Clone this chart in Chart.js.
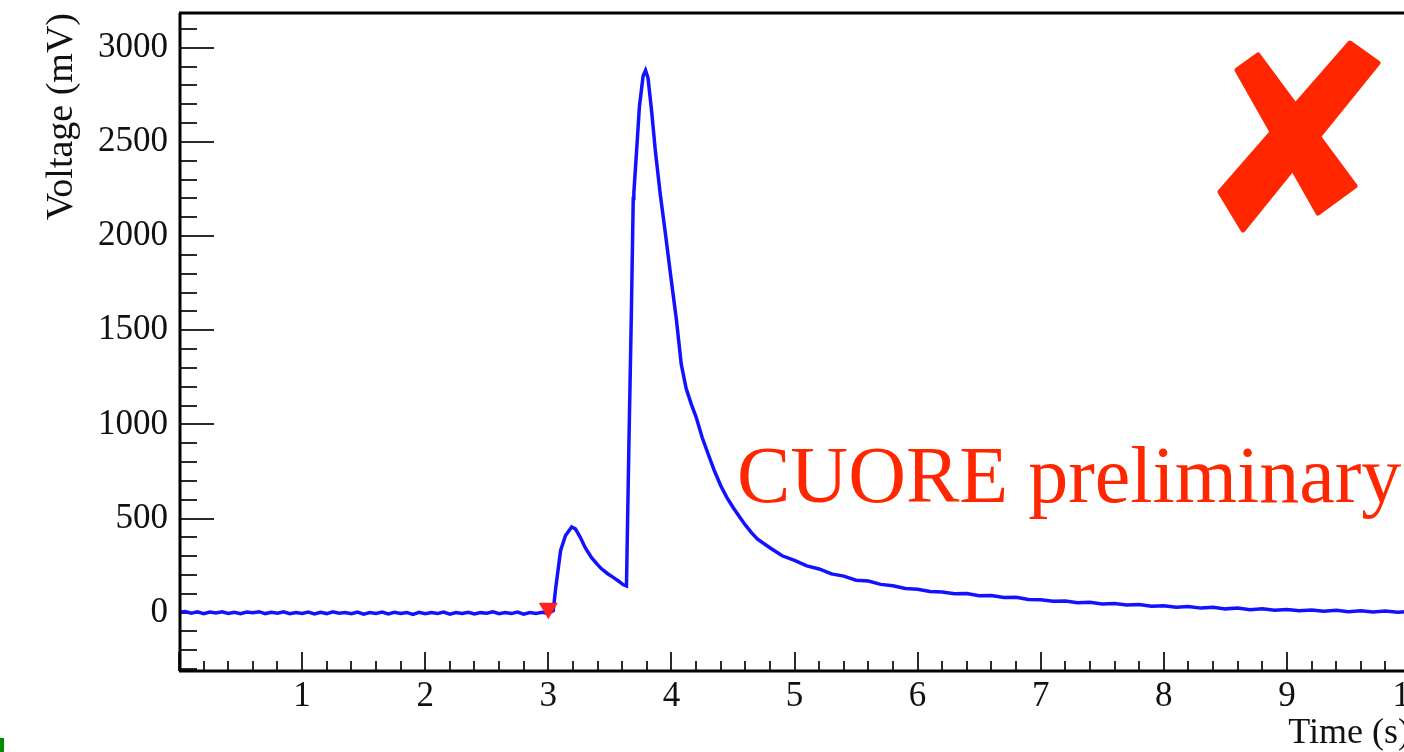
<!DOCTYPE html>
<html><head><meta charset="utf-8">
<script src="https://cdn.jsdelivr.net/npm/chart.js@4/dist/chart.umd.min.js"></script>
<style>
html,body{margin:0;padding:0;background:#fff;overflow:hidden;width:1404px;height:752px}
#wrap{position:absolute;left:0;top:0;width:1440px;height:752px}
</style>
</head><body><div id="wrap"><canvas id="c" width="1440" height="752"></canvas></div>
<script>
// ---- data ----
const timeS = [
0.00,0.05,0.10,0.15,0.20,0.25,0.30,0.35,0.40,0.45,
0.50,0.55,0.60,0.65,0.70,0.75,0.80,0.85,0.90,0.95,
1.00,1.05,1.10,1.15,1.20,1.25,1.30,1.35,1.40,1.45,
1.50,1.55,1.60,1.65,1.70,1.75,1.80,1.85,1.90,1.95,
2.00,2.05,2.10,2.15,2.20,2.25,2.30,2.35,2.40,2.45,
2.50,2.55,2.60,2.65,2.70,2.75,2.80,2.85,2.90,2.95,
3.00,3.04,3.06,3.10,3.14,3.19,3.22,3.26,3.30,3.35,
3.40,3.43,3.48,3.53,3.57,3.61,3.635,3.655,3.675,3.69,
3.695,3.72,3.74,3.77,3.79,3.81,3.84,3.87,3.91,3.95,
4.00,4.04,4.08,4.12,4.16,4.20,4.25,4.30,4.35,4.40,
4.45,4.50,4.55,4.60,4.65,4.70,4.80,4.90,5.00,5.10,
5.20,5.30,5.40,5.50,5.60,5.70,5.80,5.90,6.00,6.10,
6.20,6.30,6.40,6.50,6.60,6.70,6.80,6.90,7.00,7.10,
7.20,7.30,7.40,7.50,7.60,7.70,7.80,7.90,8.00,8.10,
8.20,8.30,8.40,8.50,8.60,8.70,8.80,8.90,9.00,9.10,
9.20,9.30,9.40,9.50,9.60,9.70,9.80,9.90,10.00
];
const voltageMV = [
2,6,-3,4,-5,3,-2,5,-4,2,
-6,3,-1,5,-5,2,-3,4,-6,1,
-4,3,-7,2,-5,4,-3,1,-6,3,
-8,0,-4,3,-7,2,-5,1,-9,2,
-6,0,-4,3,-8,1,-5,2,-7,0,
-3,4,-6,1,-5,3,-8,0,-4,2,
-4,10,130,330,410,455,445,400,345,293,
255,234,208,186,168,148,142,900,1600,2200,
2230,2480,2686,2850,2880,2840,2660,2450,2220,2020,
1760,1560,1320,1190,1110,1040,930,840,752,675,
612,560,512,466,425,390,345,302,278,248,
232,206,194,172,168,150,143,128,124,112,
110,100,101,90,91,80,82,70,68,60,
62,52,55,46,48,40,43,34,36,29,
32,24,28,20,24,16,20,13,17,10,
14,7,12,5,10,3,9,2,6
];
const triggerTime = [3.0];
const triggerVoltage = [23];
const xTickLabels = [1,2,3,4,5,6,7,8,9,10];
const yTickLabels = [0,500,1000,1500,2000,2500,3000];
const xRange = [0, 10];
const yRange = [-310, 3185];
const xTitle = 'Time (s)';
const yTitle = 'Voltage (mV)';
const watermark = 'CUORE preliminary';

// ---- decorations: ROOT-style inward ticks, frame, watermark ----
const SERIF = "'Liberation Serif','DejaVu Serif',serif";
const decor = {
  id: 'decor',
  beforeDatasetsDraw(chart) {
    const {ctx, chartArea: ca, scales: {x, y}} = chart;
    ctx.save();
    ctx.strokeStyle = '#2a2a2a';
    ctx.lineWidth = 2;
    ctx.beginPath();
    for (let i = 0; i <= 50; i++) {
      const px = Math.round(x.getPixelForValue(i * 0.2));
      const len = (i % 5 === 0) ? 19 : 10;
      ctx.moveTo(px, ca.bottom); ctx.lineTo(px, ca.bottom - len);
    }
    for (let v = -300; v <= 3100; v += 100) {
      const py = Math.round(y.getPixelForValue(v));
      const len = (v % 500 === 0) ? 35 : 18;
      ctx.moveTo(ca.left, py); ctx.lineTo(ca.left + len, py);
    }
    ctx.stroke();
    ctx.restore();
  },
  afterDatasetsDraw(chart) {
    const {ctx, chartArea: ca} = chart;
    ctx.save();
    ctx.strokeStyle = '#000';
    ctx.lineWidth = 3;
    ctx.beginPath();
    ctx.moveTo(ca.left + 1, ca.top); ctx.lineTo(ca.left + 1, ca.bottom);
    ctx.moveTo(ca.left, ca.bottom); ctx.lineTo(ca.right, ca.bottom);
    ctx.moveTo(ca.left, ca.top); ctx.lineTo(ca.right, ca.top);
    ctx.stroke();
    ctx.restore();
  },
  afterDraw(chart) {
    const {ctx} = chart;
    ctx.save();
    ctx.fillStyle = 'rgb(255,38,0)';
    ctx.font = '80px ' + SERIF;
    ctx.textBaseline = 'alphabetic';
    ctx.textAlign = 'left';
    ctx.fillText(watermark, 737, 502);
    // hand-drawn red cross
    ctx.strokeStyle = 'rgb(255,38,0)';
    ctx.lineJoin = 'round';
    ctx.lineWidth = 5;
    const polys = [
      [[1237,70],[1258,55],[1355,186],[1318,213]],
      [[1350,43],[1378,63],[1243,230],[1220,192]]
    ];
    for (const p of polys) {
      ctx.beginPath();
      ctx.moveTo(p[0][0], p[0][1]);
      for (let i = 1; i < p.length; i++) ctx.lineTo(p[i][0], p[i][1]);
      ctx.closePath();
      ctx.fill(); ctx.stroke();
    }
    // green sliver at bottom-left corner
    ctx.fillStyle = 'rgb(0,140,0)';
    ctx.fillRect(0, 738, 4, 14);
    ctx.restore();
  }
};

Chart.defaults.font.family = SERIF;
new Chart(document.getElementById('c').getContext('2d'), {
  type: 'line',
  data: {
    datasets: [
      {
        data: timeS.map((t, i) => ({x: t, y: voltageMV[i]})),
        borderColor: '#1212ff', borderWidth: 3.5, pointRadius: 0, tension: 0, fill: false, order: 2
      },
      {
        data: triggerTime.map((t, i) => ({x: t, y: triggerVoltage[i]})),
        showLine: false, pointStyle: 'triangle', rotation: 180, pointRadius: 11,
        backgroundColor: '#ff2020', borderColor: '#ff2020', borderWidth: 0, order: 1
      }
    ]
  },
  options: {
    responsive: false, animation: false, devicePixelRatio: 1,
    layout: {padding: {left: 0, top: 13, right: 30, bottom: 0}},
    plugins: {legend: {display: false}, tooltip: {enabled: false}},
    scales: {
      x: {
        type: 'linear', min: xRange[0], max: xRange[1],
        grid: {display: false}, border: {display: false},
        ticks: {
          autoSkip: false, maxRotation: 0, padding: -3, color: '#111',
          font: {family: SERIF, size: 35},
          callback: v => String(v)
        },
        afterBuildTicks(s) { s.ticks = xTickLabels.map(v => ({value: v})); },
        title: {display: true, text: xTitle, align: 'end', color: '#111',
          font: {family: SERIF, size: 36, lineHeight: 1}, padding: {top: 0, bottom: 0}},
        afterFit(s) { s.height = 81; s.paddingLeft = 0; s.paddingRight = 0; }
      },
      y: {
        type: 'linear', min: yRange[0], max: yRange[1],
        grid: {display: false}, border: {display: false},
        ticks: {
          autoSkip: false, padding: 3, color: '#111',
          font: {family: SERIF, size: 35},
          callback: v => String(v)
        },
        afterBuildTicks(s) { s.ticks = yTickLabels.map(v => ({value: v})); },
        title: {display: true, text: yTitle, align: 'end', color: '#111',
          font: {family: SERIF, size: 38, lineHeight: 1}, padding: {top: 43, bottom: 0}},
        afterFit(s) { s.width = 179; s.paddingTop = 0; s.paddingBottom = 0; }
      }
    }
  },
  plugins: [decor]
});
</script>
</body></html>
